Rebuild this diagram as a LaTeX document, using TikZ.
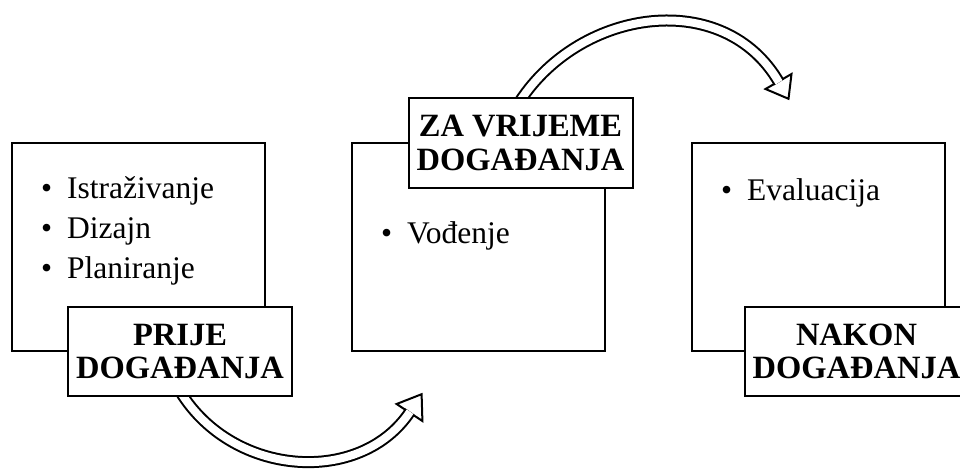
\documentclass[tikz,border=0pt]{standalone}
\usepackage{fontspec}
\setmainfont{Liberation Serif}
\begin{document}
\begin{tikzpicture}[x=1pt,y=-1pt,
  mainbox/.style={draw, line width=2pt, fill=white, minimum width=253pt, minimum height=208pt, inner sep=0pt},
  labelbox/.style={draw, line width=2pt, fill=white, minimum width=224pt, minimum height=89pt, inner sep=0pt, align=center, font=\bfseries\fontsize{32.5}{33.5}\selectfont},
  itemtext/.style={anchor=base west, inner sep=0pt, font=\fontsize{31.5}{40}\selectfont},
  shaft/.style={draw=black, line width=2pt, double=white, double distance=8pt},
  head/.style={draw=black, fill=white, line width=2pt, line join=miter}
]
\useasboundingbox (0,0) rectangle (960,468);
% main boxes
\node[mainbox] (b1) at (138.5,247) {};
\node[mainbox] (b2) at (478.5,246.5) {};
\node[mainbox] (b3) at (818.5,247) {};
% items
\node[itemtext] (i11) at (41,198) {\makebox[26pt][l]{\textbullet}Istraživanje};
\node[itemtext] (i12) at (41,238) {\makebox[26pt][l]{\textbullet}Dizajn};
\node[itemtext] (i13) at (41,278) {\makebox[26pt][l]{\textbullet}Planiranje};
\node[itemtext] (i21) at (381,243) {\makebox[26pt][l]{\textbullet}Vođenje};
\node[itemtext] (i31) at (721,200) {\makebox[26pt][l]{\textbullet}Evaluacija};
% bottom arrow
\coordinate (a1s) at (180.9,392.6);
\coordinate (a1m) at (410.05,411.67);
\coordinate (a1t) at (421.6,394.2);
\coordinate (a1b1) at (396.6,404);
\coordinate (a1b2) at (422.4,421);
\draw[head] (a1t) -- (a1b1) -- (a1b2) -- cycle;
\draw[shaft] (a1s) .. controls (233.9,477.6) and (361.1,485.5) .. (a1m);
% top arrow
\coordinate (a2s) at (519.8,101.4);
\coordinate (a2m) at (779,82.4);
\coordinate (a2t) at (788.5,98.8);
\coordinate (a2b1) at (791.5,74);
\coordinate (a2b2) at (765.5,89);
\draw[head] (a2t) -- (a2b1) -- (a2b2) -- cycle;
\draw[shaft] (a2s) .. controls (581.4,7.3) and (724.5,-12.0) .. (a2m);
% labels
\node[labelbox] (l1) at (180,351.5) {PRIJE\\DOGAĐANJA};
\node[labelbox] (l2) at (520.5,143) {ZA VRIJEME\\DOGAĐANJA};
\node[labelbox] (l3) at (856.5,351.5) {NAKON\\DOGAĐANJA};
\end{tikzpicture}
\end{document}
